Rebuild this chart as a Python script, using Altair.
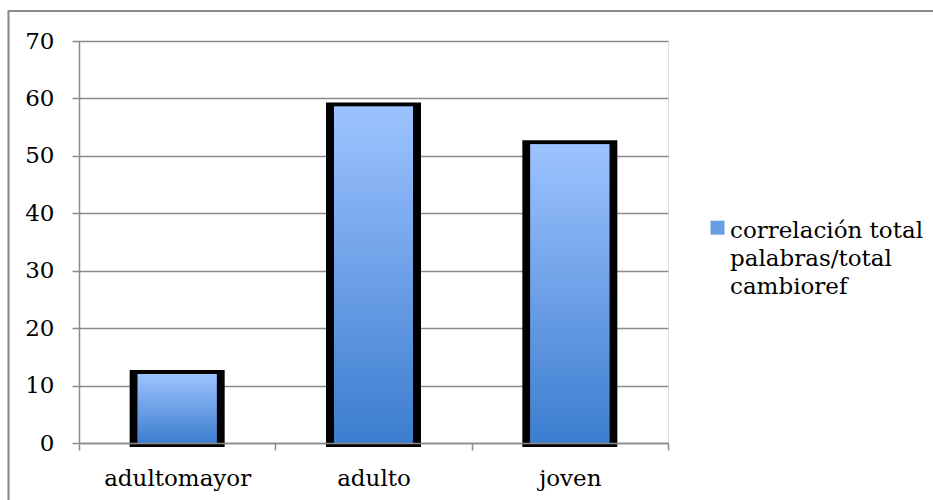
import altair as alt
import pandas as pd

# Groups on the x axis and the value of each bar
categories = ["adultomayor", "adulto", "joven"]
values = [12.0, 58.6, 52.0]

# Series name, one entry per legend line
series_lines = ["correlación total", "palabras/total", "cambioref"]
series_name = "\n".join(series_lines)

y_ticks = [0, 10, 20, 30, 40, 50, 60, 70]

df = pd.DataFrame({"grupo": categories, "valor": values, "serie": [series_name] * len(categories)})

FONT = "DejaVu Serif"
GRAY = "#8a8a8a"
PLOT_W, PLOT_H = 589, 402

bar_gradient = alt.Gradient(
    gradient="linear",
    stops=[
        alt.GradientStop(offset=0, color="#9dc3ff"),
        alt.GradientStop(offset=1, color="#3c7dcf"),
    ],
    x1=0, x2=0, y1=0, y2=1,
)

x_enc = alt.X(
    "grupo:N",
    sort=categories,
    scale=alt.Scale(paddingInner=0, paddingOuter=0),
    axis=alt.Axis(
        title=None, labelAngle=0, tickBand="extent", tickSize=7, tickColor=GRAY,
        tickWidth=1.5, domainColor=GRAY, domainWidth=1.5, labelFont=FONT,
        labelFontSize=23, labelColor="#000000", labelPadding=17, grid=False, zindex=1,
    ),
)
y_enc = alt.Y(
    "valor:Q",
    scale=alt.Scale(domain=[0, 70], nice=False),
    axis=alt.Axis(
        title=None, values=y_ticks, grid=True, gridColor=GRAY, gridWidth=1.5,
        tickSize=7, tickColor=GRAY, tickWidth=1.5, domainColor=GRAY, domainWidth=1.5,
        labelFont=FONT, labelFontSize=23, labelColor="#000000", labelPadding=18,
    ),
)

base = alt.Chart(df)

# Outer frame of the chart area
frame = base.mark_rect(filled=False, stroke=GRAY, strokeWidth=1.5).encode(
    x=alt.value(-70.5), x2=alt.value(900), y=alt.value(-30), y2=alt.value(520)
)

# Thick black outline behind each bar
outline = base.mark_bar(color="black", stroke="black", strokeWidth=8, size=87, y2Offset=-3).encode(
    x=x_enc, y=y_enc
)

# Solid layer that carries the legend
legend_layer = base.mark_bar(size=79).encode(
    x=x_enc,
    y=y_enc,
    color=alt.Color(
        "serie:N",
        scale=alt.Scale(range=["#6b9de3"]),
        legend=alt.Legend(
            title=None, orient="none", legendX=627, legendY=178, padding=0,
            symbolType="M-1,-1.4H1V0.6H-1Z", symbolSize=196, symbolStrokeWidth=0,
            labelFont=FONT, labelFontSize=23, labelColor="#000000", labelLimit=400,
            labelOffset=1, labelExpr="split(datum.label, '\\n')",
        ),
    ),
)

# Gradient fill drawn over it
fill = base.mark_bar(size=79, color=bar_gradient).encode(x=x_enc, y=y_enc)

chart = (
    alt.layer(frame, outline, legend_layer, fill)
    .properties(
        width=PLOT_W,
        height=PLOT_H,
        autosize=alt.AutoSizeParams(type="none"),
        padding={"left": 79, "top": 41, "right": 265, "bottom": 57},
    )
    .configure_view(stroke=None)
    .configure(background="white", style={"guide-label": {"lineHeight": 28}})
)

chart.save("out.html", embed_options={"renderer": "svg", "actions": False})
